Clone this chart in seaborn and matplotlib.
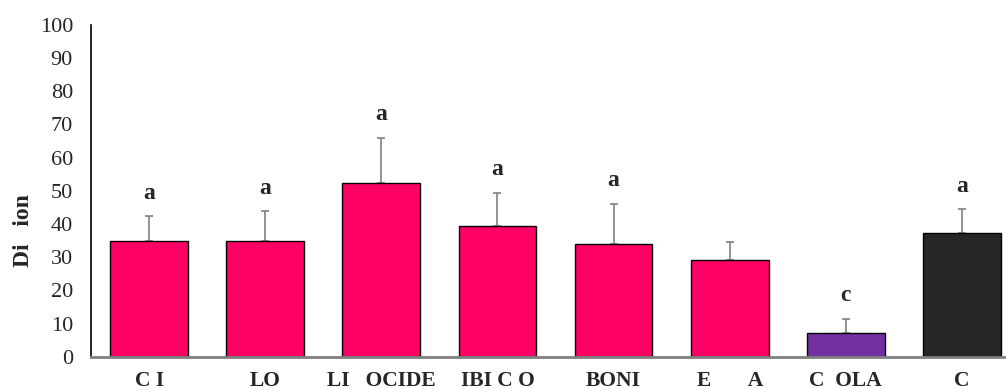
import matplotlib
matplotlib.use("Agg")
import matplotlib.pyplot as plt
import numpy as np
import pandas as pd
import seaborn as sns

# treatments as labelled in the source figure (some glyphs missing there)
treatments = ["C I", "LO", "LI   OCIDE", "IBI C O", "BONI", "E       A", "C  OLA", "C"]
means = [35, 35, 52.5, 39.5, 34, 29, 7.2, 37.3]
errors = [7.3, 8.8, 13.5, 9.8, 12, 5.6, 4.1, 7.1]
letters = ["a", "a", "a", "a", "a", "", "c", "a"]
bar_colors = ["#FF0066"] * 6 + ["#7030A0", "#262626"]

sns.set_theme(style="white")
plt.rcParams["font.family"] = ["Liberation Serif", "DejaVu Serif"]

df = pd.DataFrame({"treatment": treatments, "mean": means})

fig = plt.figure(figsize=(10.06, 3.89), dpi=100)
ax = fig.add_axes([0.0905, 0.083, 0.9095, 0.853])

sns.barplot(data=df, x="treatment", y="mean", hue="treatment",
            palette=bar_colors, saturation=1, legend=False, width=0.67,
            edgecolor="black", linewidth=1, ax=ax)

x = np.arange(len(treatments))
ax.errorbar(x, means, yerr=[np.zeros(len(errors)), errors], fmt="none",
            ecolor="#808080", elinewidth=1.2, capsize=3, capthick=1.2, zorder=0.5)

for xi, m, e, lab in zip(x, means, errors, letters):
    if lab:
        ax.text(xi, m + e + 7, lab, ha="center", va="center",
                fontsize=17, fontweight="bold")

ax.set_ylim(0, 100)
ax.set_xlim(-0.5, 7.38)
ax.set_yticks(range(0, 101, 10))
ax.tick_params(axis="y", labelsize=16, length=0, pad=13)
ax.tick_params(axis="x", labelsize=15.5, length=0, pad=10)
for t in ax.get_xticklabels():
    t.set_fontweight("bold")

ax.set_xlabel("")
ax.set_ylabel("Di   ion", fontsize=17, fontweight="bold")
ax.yaxis.set_label_coords(-0.062, 0.38)

for side in ["top", "right"]:
    ax.spines[side].set_visible(False)
ax.spines["left"].set_color("black")
ax.spines["left"].set_linewidth(1.2)
ax.spines["bottom"].set_color("#808080")
ax.spines["bottom"].set_linewidth(2)

fig.savefig("out.png", dpi=100)
